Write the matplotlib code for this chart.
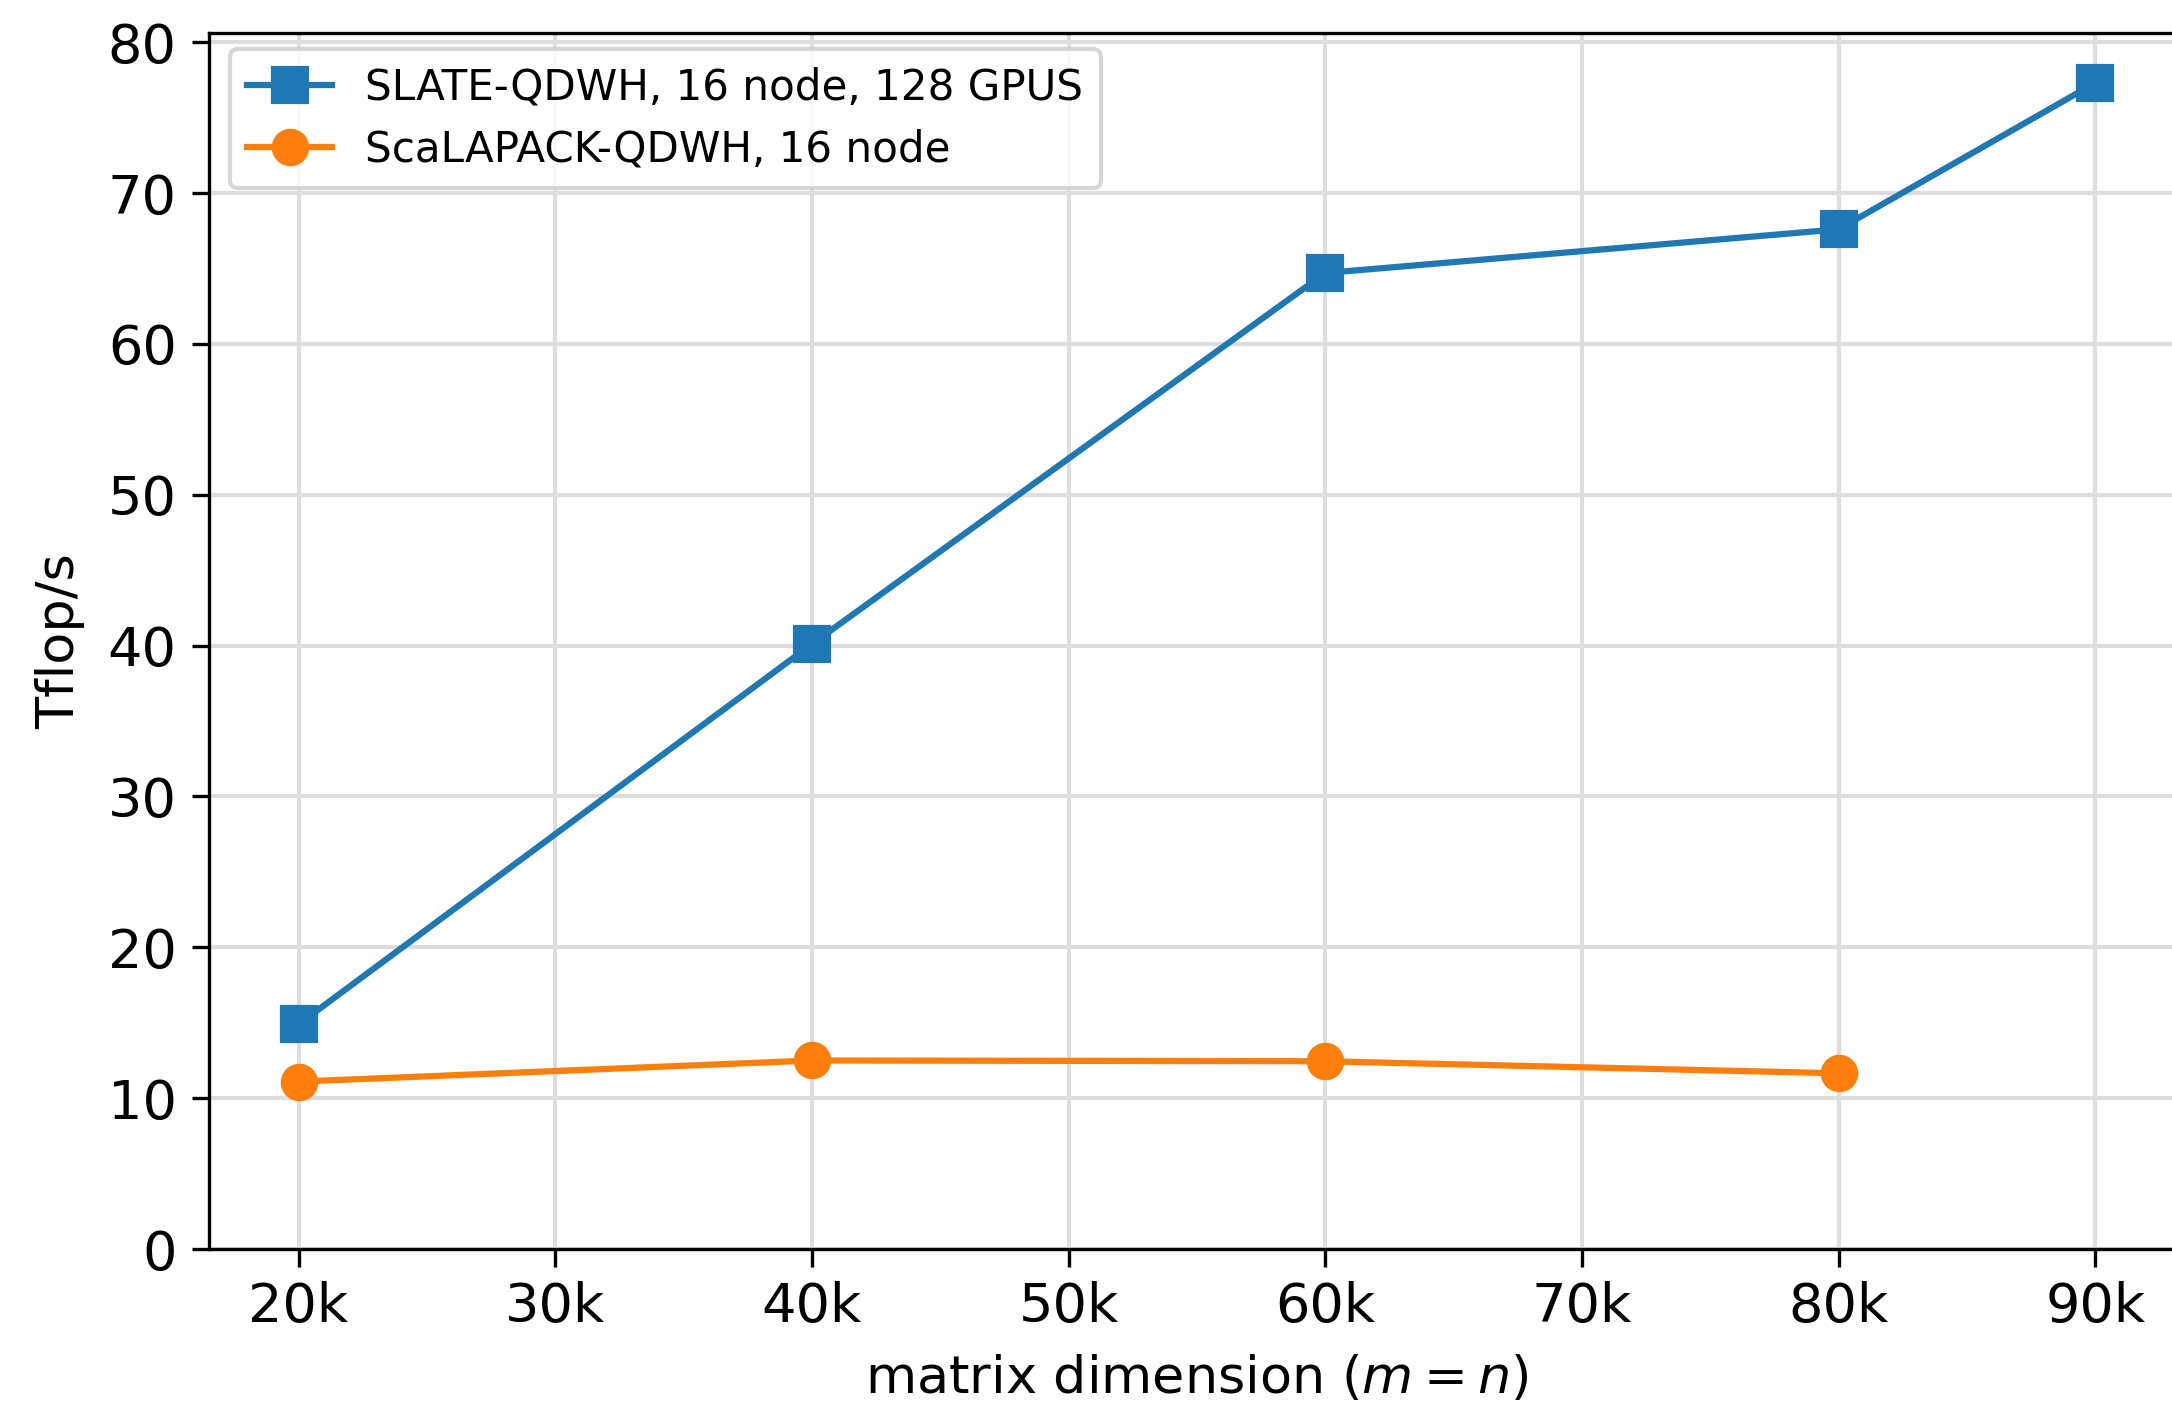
import matplotlib
matplotlib.use("Agg")
import matplotlib.pyplot as plt
from matplotlib.ticker import FuncFormatter, MultipleLocator

# matrix sizes and measured performance
sizes_slate = [20000, 40000, 60000, 80000, 90000]
tflops_slate = [14.9, 40.1, 64.7, 67.6, 77.3]

sizes_scalapack = [20000, 40000, 60000, 80000]
tflops_scalapack = [11.1, 12.5, 12.45, 11.65]

fig = plt.figure(figsize=(2172 / 300, 1405 / 300), dpi=300)
ax = fig.add_axes([0.0961, 0.111, 0.9099, 0.8655])

ax.plot(sizes_slate, tflops_slate, marker="s", markersize=8, linewidth=1.5,
        color="#1f77b4", label="SLATE-QDWH, 16 node, 128 GPUS")
ax.plot(sizes_scalapack, tflops_scalapack, marker="o", markersize=8, linewidth=1.5,
        color="#ff7f0e", label="ScaLAPACK-QDWH, 16 node")

ax.set_ylim(bottom=0)
ax.xaxis.set_major_locator(MultipleLocator(10000))
ax.xaxis.set_major_formatter(FuncFormatter(lambda v, pos: f"{int(v / 1000)}k"))

ax.grid(True, color="#dddddd", linewidth=1.0)
ax.tick_params(labelsize=13, length=4.2, width=0.8)

ax.set_ylabel("Tflop/s", fontsize=12.6, labelpad=5.3)
ax.set_xlabel("matrix dimension ($m = n$)", fontsize=12.6, labelpad=5)

ax.legend(loc="upper left", fontsize=10.1, labelspacing=0.47, borderpad=0.42,
          bbox_to_anchor=(0.0, 1.004))

fig.savefig("out.png", dpi=300)
